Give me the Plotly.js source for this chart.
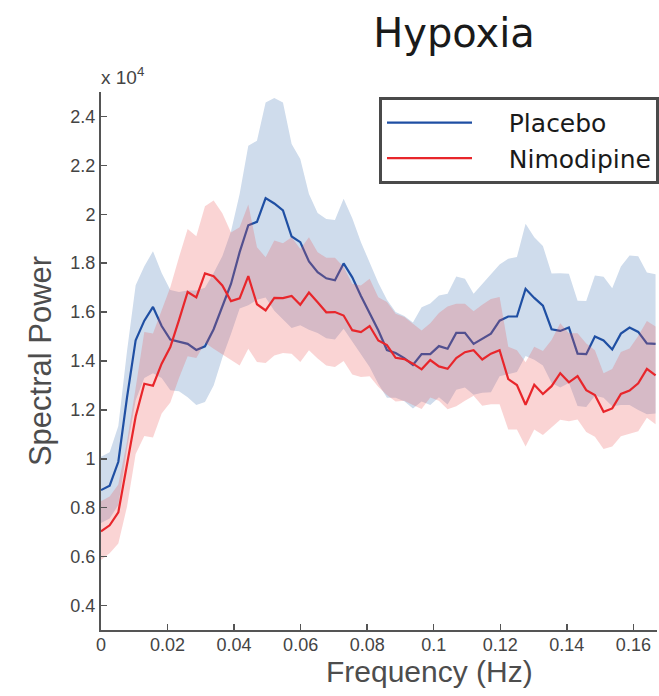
<!DOCTYPE html>
<html>
<head>
<meta charset="utf-8">
<script src="https://cdn.plot.ly/plotly-3.0.1.min.js"></script>
<style>
  html, body { margin: 0; padding: 0; background: #ffffff; }
  #chart { width: 659px; height: 696px; }
</style>
</head>
<body>
<div id="chart"></div>
<script>
// Spectral power (units of 10^4), frequency bins of 1/384 Hz from 0 to 1/6 Hz
const freqStep = 1 / 384;

const placeboMean = [0.872,0.890,0.988,1.25,1.485,1.565,1.621,1.543,1.488,1.478,1.470,1.445,1.460,1.530,1.622,1.715,1.845,1.955,1.969,2.066,2.044,2.016,1.909,1.886,1.807,1.763,1.738,1.730,1.799,1.742,1.666,1.598,1.526,1.445,1.433,1.412,1.384,1.428,1.428,1.461,1.450,1.515,1.515,1.470,1.491,1.512,1.565,1.582,1.582,1.695,1.658,1.626,1.530,1.523,1.537,1.430,1.428,1.500,1.484,1.447,1.512,1.537,1.519,1.472,1.470];
const placeboUpper = [1.008,1.027,1.134,1.44,1.71,1.787,1.849,1.76,1.69,1.682,1.688,1.688,1.70,1.76,1.828,1.93,2.083,2.28,2.301,2.457,2.475,2.457,2.287,2.226,2.083,2.005,1.981,1.977,2.063,1.984,1.886,1.806,1.72,1.65,1.60,1.584,1.557,1.62,1.635,1.668,1.675,1.746,1.736,1.675,1.716,1.757,1.795,1.818,1.825,1.961,1.906,1.870,1.758,1.759,1.757,1.646,1.645,1.750,1.745,1.698,1.786,1.831,1.828,1.762,1.755];
const placeboLower = [0.738,0.756,0.811,1.04,1.24,1.33,1.35,1.33,1.28,1.276,1.252,1.22,1.232,1.30,1.413,1.51,1.615,1.628,1.65,1.66,1.605,1.57,1.535,1.546,1.528,1.514,1.493,1.488,1.532,1.48,1.43,1.375,1.307,1.25,1.25,1.235,1.206,1.234,1.22,1.252,1.222,1.282,1.292,1.262,1.27,1.272,1.338,1.348,1.355,1.42,1.405,1.382,1.31,1.292,1.31,1.216,1.212,1.258,1.25,1.215,1.22,1.22,1.20,1.182,1.185];

const nimodipineMean = [0.703,0.728,0.781,0.975,1.173,1.307,1.299,1.389,1.457,1.567,1.682,1.660,1.758,1.747,1.709,1.645,1.656,1.747,1.632,1.607,1.658,1.657,1.666,1.630,1.680,1.640,1.599,1.600,1.586,1.526,1.518,1.543,1.484,1.465,1.413,1.408,1.389,1.366,1.404,1.378,1.368,1.412,1.436,1.444,1.406,1.430,1.444,1.326,1.302,1.221,1.303,1.265,1.297,1.350,1.313,1.338,1.281,1.261,1.192,1.206,1.265,1.279,1.309,1.368,1.341];
const nimodipineUpper = [0.826,0.846,0.895,1.07,1.29,1.519,1.512,1.607,1.702,1.824,1.940,1.910,2.033,2.056,2.004,1.925,1.947,2.04,1.865,1.824,1.893,1.882,1.906,1.858,1.906,1.845,1.822,1.822,1.784,1.716,1.709,1.736,1.661,1.641,1.593,1.580,1.553,1.525,1.554,1.596,1.623,1.634,1.634,1.603,1.630,1.654,1.662,1.458,1.444,1.395,1.458,1.441,1.486,1.554,1.513,1.513,1.472,1.444,1.350,1.367,1.437,1.451,1.502,1.564,1.541];
const nimodipineLower = [0.586,0.614,0.654,0.804,1.02,1.093,1.087,1.185,1.23,1.33,1.419,1.412,1.475,1.45,1.425,1.405,1.382,1.450,1.396,1.392,1.423,1.433,1.430,1.396,1.444,1.410,1.382,1.375,1.40,1.345,1.335,1.338,1.295,1.261,1.234,1.237,1.220,1.204,1.251,1.237,1.203,1.215,1.237,1.258,1.217,1.223,1.223,1.120,1.120,1.050,1.120,1.097,1.127,1.160,1.154,1.161,1.110,1.090,1.040,1.050,1.092,1.102,1.113,1.168,1.141];

const xTickVals = [0, 0.02, 0.04, 0.06, 0.08, 0.1, 0.12, 0.14, 0.16];
const xTickText = ['0', '0.02', '0.04', '0.06', '0.08', '0.1', '0.12', '0.14', '0.16'];
const yTickVals = [0.4, 0.6, 0.8, 1.0, 1.2, 1.4, 1.6, 1.8, 2.0, 2.2, 2.4];
const yTickText = ['0.4', '0.6', '0.8', '1', '1.2', '1.4', '1.6', '1.8', '2', '2.2', '2.4'];

const freq = placeboMean.map((_, i) => i * freqStep);

function band(upper, lower) {
  return {
    x: freq.concat(freq.slice().reverse()),
    y: upper.concat(lower.slice().reverse())
  };
}

const pb = band(placeboUpper, placeboLower);
const nb = band(nimodipineUpper, nimodipineLower);

const sans = '"Liberation Sans", Arial, Helvetica, sans-serif';
const wide = '"DejaVu Sans", "Liberation Sans", Arial, sans-serif';
const pad = '\u00a0\u00a0\u00a0\u00a0';

const traces = [
  { x: pb.x, y: pb.y, type: 'scatter', mode: 'lines', fill: 'toself',
    fillcolor: 'rgb(207,220,236)', line: { width: 0 }, showlegend: false, hoverinfo: 'skip' },
  { x: freq, y: placeboMean, type: 'scatter', mode: 'lines', name: pad + 'Placebo',
    line: { color: '#1f4fa3', width: 2.2 } },
  { x: nb.x, y: nb.y, type: 'scatter', mode: 'lines', fill: 'toself',
    fillcolor: 'rgba(235,83,83,0.25)', line: { width: 0 }, showlegend: false, hoverinfo: 'skip' },
  { x: freq, y: nimodipineMean, type: 'scatter', mode: 'lines', name: pad + 'Nimodipine',
    line: { color: '#e8262b', width: 2.2 } }
];

const layout = {
  width: 659, height: 696,
  margin: { l: 101, r: 0, t: 92, b: 66 },
  paper_bgcolor: '#ffffff', plot_bgcolor: '#ffffff',
  title: { text: 'Hypoxia', font: { family: wide, size: 40, color: '#1a1a1a' },
           x: 0.689, xanchor: 'center', y: 0.952, yanchor: 'middle' },
  xaxis: {
    range: [0, 0.1671], tickvals: xTickVals, ticktext: xTickText,
    ticks: 'inside', ticklen: 6, tickwidth: 1.5, tickcolor: '#555',
    showline: true, linecolor: '#555', linewidth: 2,
    showgrid: false, zeroline: false, ticklabelstandoff: -3,
    tickfont: { family: sans, size: 18, color: '#444' }
  },
  yaxis: {
    range: [0.3, 2.5], tickvals: yTickVals, ticktext: yTickText,
    ticks: 'inside', ticklen: 6, tickwidth: 1.5, tickcolor: '#555',
    showline: true, linecolor: '#555', linewidth: 2,
    showgrid: false, zeroline: false,
    tickfont: { family: sans, size: 18, color: '#444' },
    title: { text: 'Spectral Power', font: { family: sans, size: 31, color: '#4d4d4d' }, standoff: 10 }
  },
  legend: {
    x: 0.5, y: 0.991, xanchor: 'left', yanchor: 'top',
    bgcolor: '#ffffff', bordercolor: '#4a4a4a', borderwidth: 3,
    font: { family: wide, size: 25, color: '#1a1a1a' },
    itemwidth: 85, tracegroupgap: 0
  },
  annotations: [
    { text: 'x 10<sup>4</sup>', xref: 'paper', yref: 'paper', x: -0.004, y: 1.03,
      xanchor: 'left', yanchor: 'middle', showarrow: false,
      font: { family: sans, size: 19, color: '#444' } },
    { text: 'Frequency (Hz)', xref: 'paper', yref: 'paper', x: 0.59, y: -0.078,
      xanchor: 'center', yanchor: 'middle', showarrow: false,
      font: { family: sans, size: 30, color: '#4d4d4d' } }
  ],
  showlegend: true
};

Plotly.newPlot('chart', traces, layout, { staticPlot: true, displayModeBar: false });
</script>
</body>
</html>
